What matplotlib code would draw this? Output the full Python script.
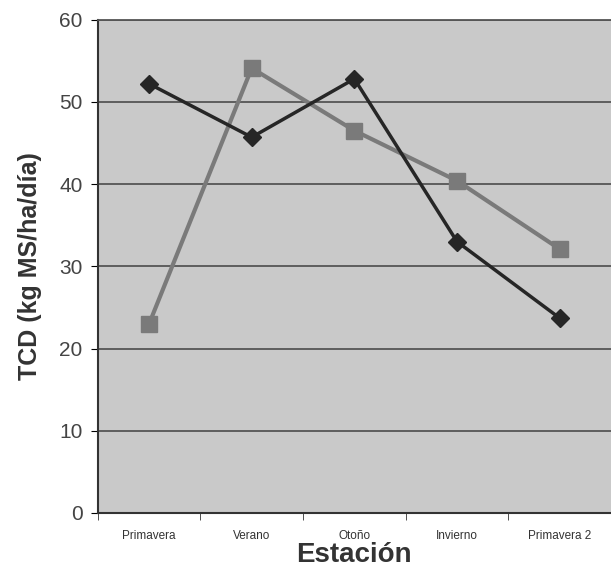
import numpy as np
import matplotlib.pyplot as plt

plt.rcParams['font.family'] = ['Liberation Sans', 'DejaVu Sans']

estaciones = ['Primavera', 'Verano', 'Otoño', 'Invierno', 'Primavera 2']
serie_oscura = [52.2, 45.7, 52.8, 33.0, 23.7]
serie_gris = [23.0, 54.1, 46.5, 40.4, 32.1]

fig = plt.figure(figsize=(6.11, 5.71), dpi=100)
ax = fig.add_axes([0.160, 0.1016, 0.840, 0.864])
ax.set_facecolor('#c9c9c9')

x = np.arange(len(estaciones))
ax.plot(x, serie_gris, color='#7a7a7a', lw=3, marker='s', ms=11, zorder=3)
ax.plot(x, serie_oscura, color='#262626', lw=2.5, marker='D', ms=9, zorder=4)

ax.set_xlim(-0.5, len(estaciones) - 0.5)
ax.set_ylim(0, 60)
ax.set_yticks(range(0, 61, 10))
ax.yaxis.grid(True, color='#555555', lw=1.3)
ax.set_axisbelow(True)

ax.set_xticks(x)
ax.set_xticklabels(estaciones, fontsize=8.5, color='#333333')
ax.set_xticks(np.arange(-0.5, len(estaciones), 1), minor=True)
ax.tick_params(axis='x', which='major', length=0, pad=12)
ax.tick_params(axis='x', which='minor', length=5, color='#333333')
ax.tick_params(axis='y', length=5, labelsize=15, labelcolor='#444444', pad=6)

ax.spines['right'].set_visible(False)
ax.spines['top'].set_color('#555555')
ax.spines['top'].set_linewidth(1.3)
for s in ['left', 'bottom']:
    ax.spines[s].set_color('#333333')
    ax.spines[s].set_linewidth(1.5)

ax.set_xlabel('Estación', fontsize=20, fontweight='bold', color='#333333', labelpad=0)
ax.set_ylabel('TCD (kg MS/ha/día)', fontsize=18, fontweight='bold', color='#333333', labelpad=12)

fig.savefig('out.png', dpi=100)
